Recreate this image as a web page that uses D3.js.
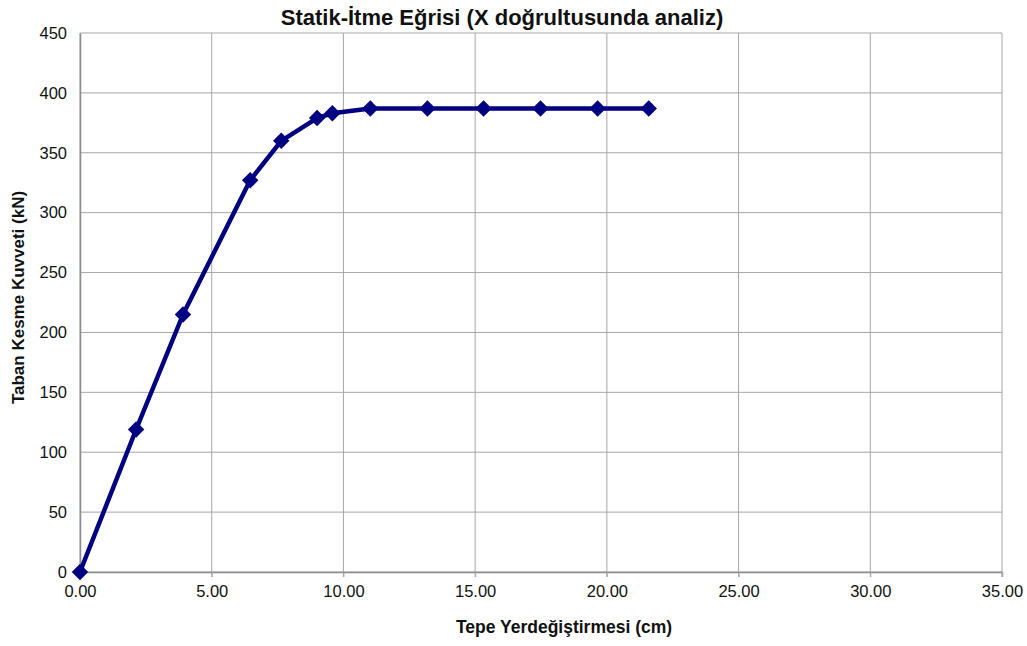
<!DOCTYPE html>
<html>
<head>
<meta charset="utf-8">
<script src="https://cdn.jsdelivr.net/npm/d3@7"></script>
<style>
  html, body { margin: 0; padding: 0; background: #fff; }
  svg { display: block; font-family: "Liberation Sans", Arial, sans-serif; }
</style>
</head>
<body>
<svg id="chart" width="1027" height="646"></svg>
<script>
// Pushover curve: top displacement (cm) vs. base shear (kN)
const displacement = [0, 2.13, 3.91, 6.46, 7.64, 9.0, 9.58, 11.02, 13.19, 15.32, 17.48, 19.65, 21.59];
const baseShear    = [0, 119, 215, 327, 360, 379, 383, 387, 387, 387, 387, 387, 387];
const xTicks = [0, 5, 10, 15, 20, 25, 30, 35];
const yTicks = [0, 50, 100, 150, 200, 250, 300, 350, 400, 450];

const titleText = "Statik-İtme Eğrisi (X doğrultusunda analiz)";
const xLabel = "Tepe Yerdeğiştirmesi (cm)";
const yLabel = "Taban Kesme Kuvveti (kN)";

const svg = d3.select("#chart");
const margin = { left: 80, right: 25, top: 33, bottom: 74 };
const W = 1027, H = 646;
const plotW = W - margin.left - margin.right;
const plotH = H - margin.top - margin.bottom;

const x = d3.scaleLinear().domain([0, 35]).range([margin.left, margin.left + plotW]);
const y = d3.scaleLinear().domain([0, 450]).range([margin.top + plotH, margin.top]);

const gridColor = "#a6a6a6";

// Gridlines
svg.append("g")
  .selectAll("line.h")
  .data(yTicks)
  .join("line")
  .attr("x1", x(0)).attr("x2", x(35))
  .attr("y1", d => y(d)).attr("y2", d => y(d))
  .attr("stroke", gridColor).attr("stroke-width", 1);

svg.append("g")
  .selectAll("line.v")
  .data(xTicks)
  .join("line")
  .attr("x1", d => x(d)).attr("x2", d => x(d))
  .attr("y1", y(450)).attr("y2", y(0) + 5)
  .attr("stroke", gridColor).attr("stroke-width", 1);

// Axes
const xAxis = d3.axisBottom(x).tickValues(xTicks).tickFormat(d3.format(".2f")).tickSize(5).tickPadding(8);
const yAxis = d3.axisLeft(y).tickValues(yTicks).tickSize(0).tickPadding(13);

const gx = svg.append("g").attr("transform", `translate(0,${y(0)})`).call(xAxis);
const gy = svg.append("g").attr("transform", `translate(${x(0)},0)`).call(yAxis);

[gx, gy].forEach(g => {
  g.select(".domain").attr("stroke", "#8c8c8c").attr("stroke-width", 1.5);
  g.selectAll(".tick line").attr("stroke", gridColor);
  g.selectAll(".tick text")
    .attr("fill", "#111")
    .style("font-size", "16.5px")
    .style("font-family", "'Liberation Sans', Arial, sans-serif");
});

// Series line
const pts = displacement.map((d, i) => [d, baseShear[i]]);
svg.append("path")
  .datum(pts)
  .attr("fill", "none")
  .attr("stroke", "#000080")
  .attr("stroke-width", 4.5)
  .attr("stroke-linejoin", "round")
  .attr("d", d3.line().x(d => x(d[0])).y(d => y(d[1])));

// Diamond markers
const diamond = d3.symbol().type(d3.symbolSquare).size(135);
svg.append("g")
  .selectAll("path")
  .data(pts)
  .join("path")
  .attr("d", diamond)
  .attr("transform", d => `translate(${x(d[0])},${y(d[1])}) rotate(45)`)
  .attr("fill", "#000080");

// Titles
svg.append("text")
  .attr("x", 502).attr("y", 25)
  .attr("text-anchor", "middle")
  .style("font-size", "22px").style("font-weight", "bold")
  .attr("fill", "#111")
  .text(titleText);

svg.append("text")
  .attr("x", 564).attr("y", 633)
  .attr("text-anchor", "middle")
  .style("font-size", "17.5px").style("font-weight", "bold")
  .attr("fill", "#111")
  .text(xLabel);

svg.append("text")
  .attr("transform", `translate(24,${y(225) - 5}) rotate(-90)`)
  .attr("text-anchor", "middle")
  .style("font-size", "17px").style("font-weight", "bold")
  .attr("fill", "#111")
  .text(yLabel);
</script>
</body>
</html>
